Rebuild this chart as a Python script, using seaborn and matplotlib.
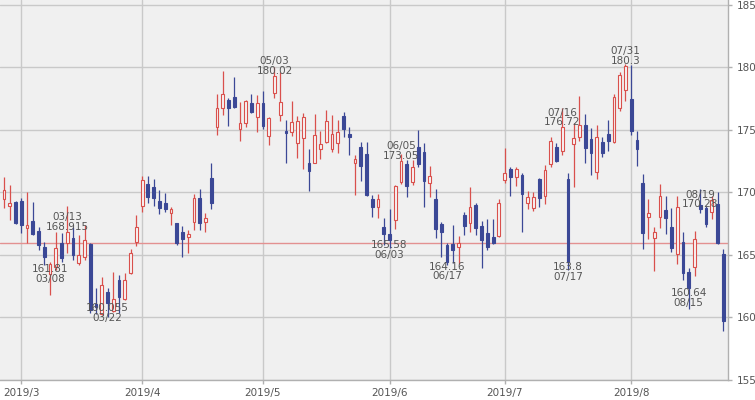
"""
Candlestick chart, Feb 26 - Aug 23 2019, daily bars with high/low markers.
"""

import matplotlib

matplotlib.use("Agg")  # render to file, no display needed
import matplotlib.pyplot as plt
import numpy as np
import pandas as pd
import seaborn as sns

START = "2019-02-26"
END = "2019-08-23"
HOLIDAYS = ["2019-04-19", "2019-05-27", "2019-07-04"]

OPENS = [
    169.45, 168.92, 169.27,
    169.32, 167.19, 167.75, 166.92, 165.67, 163.48, 164.01, 165.93, 165.99, 166.33, 164.33,
    164.87, 165.85, 161.08, 160.30, 162.01, 160.55, 163.00, 161.45, 163.59, 166.07,
    168.92, 170.65, 170.47, 169.32, 169.13, 168.33, 167.53, 166.81, 166.47, 167.67, 169.59,
    167.67, 171.19, 175.21, 176.73, 177.40, 177.61, 175.08, 175.53, 177.19, 176.07,
    177.19, 174.55, 177.93, 176.20, 174.92, 174.87, 173.99, 174.33, 172.39, 172.39, 173.45,
    174.07, 173.48, 173.99, 176.12, 174.68, 172.33, 173.67, 173.08, 169.45, 168.81, 167.21,
    166.65, 167.80, 170.87, 172.28, 170.87, 173.67, 173.27, 170.73, 169.45, 167.48,
    165.80, 165.85, 165.67, 168.20, 167.53, 169.00, 167.32, 166.79, 166.47, 166.52,
    171.00, 171.85, 171.21, 171.40, 169.13, 168.73, 171.05, 169.72, 172.28, 173.61, 173.35,
    171.05, 173.85, 174.41, 175.40, 174.25, 171.67, 174.07, 174.65, 174.07, 176.73, 178.20,
    177.45, 174.20, 170.73, 168.01, 166.33, 168.07, 168.60, 167.21, 165.08, 166.01, 163.67,
    164.01, 169.00, 168.73, 168.40, 169.08, 165.08,
]
HIGHS = [
    171.21, 170.60, 169.30,
    169.53, 170.07, 169.27, 167.21, 166.07, 164.47, 166.87, 166.73, 168.915, 167.27, 166.60,
    167.40, 165.93, 162.33, 163.27, 162.33, 163.67, 163.40, 163.53, 165.45, 168.20,
    171.32, 171.32, 171.05, 170.20, 169.99, 168.87, 167.59, 167.32, 167.00, 169.85, 170.25,
    168.33, 172.33, 177.88, 179.72, 177.59, 179.27, 177.21, 177.40, 177.88, 177.80,
    178.12, 176.07, 180.02, 179.67, 175.80, 177.32, 176.12, 176.39, 173.45, 176.28, 174.92,
    176.60, 176.20, 175.80, 176.47, 175.21, 173.00, 174.07, 174.07, 169.80, 169.85, 167.93,
    168.65, 170.60, 173.05, 172.60, 172.60, 175.00, 173.93, 172.12, 170.25, 167.67,
    165.93, 167.40, 166.52, 168.47, 170.41, 169.19, 167.75, 167.85, 167.85, 169.45,
    173.53, 172.07, 172.07, 171.53, 170.15, 170.07, 171.13, 172.20, 174.47, 173.99, 176.72,
    171.53, 175.53, 177.72, 176.28, 175.13, 175.40, 174.47, 175.80, 177.88, 179.67, 180.30,
    180.20, 174.95, 171.48, 169.45, 167.21, 170.68, 169.72, 168.73, 169.72, 166.87, 163.93,
    166.92, 170.28, 168.92, 169.70, 170.07, 165.45,
]
LOWS = [
    168.73, 167.80, 167.50,
    166.73, 165.93, 166.60, 165.40, 164.20, 161.81, 163.80, 164.47, 165.13, 164.60, 164.20,
    164.60, 160.33, 160.30, 160.20, 160.055, 160.47, 160.33, 161.40, 163.48, 165.75,
    168.47, 169.13, 168.95, 168.28, 168.47, 167.40, 165.80, 164.87, 165.19, 167.00, 167.00,
    166.87, 168.65, 174.60, 176.20, 175.32, 176.73, 174.15, 175.21, 176.33, 174.87,
    175.08, 173.80, 177.53, 175.75, 172.33, 174.52, 172.73, 171.85, 170.15, 172.33, 172.65,
    173.93, 173.27, 173.19, 174.41, 173.00, 169.80, 170.95, 169.75, 168.07, 167.93, 165.80,
    165.58, 167.05, 170.68, 169.61, 170.60, 172.07, 168.87, 169.61, 166.33, 164.87,
    164.16, 164.33, 164.30, 166.60, 166.87, 166.60, 163.93, 165.40, 165.88, 166.41,
    170.73, 169.72, 170.52, 166.87, 168.65, 168.55, 168.87, 169.08, 172.07, 172.47, 173.00,
    163.80, 170.47, 174.15, 172.39, 171.40, 171.05, 172.87, 173.35, 173.99, 176.55, 177.35,
    174.60, 172.12, 165.45, 166.25, 163.75, 167.13, 166.68, 165.27, 164.28, 163.00, 160.64,
    163.32, 168.33, 167.27, 167.90, 165.88, 158.95,
]
CLOSES = [
    170.20, 169.13, 167.59,
    167.40, 167.40, 166.65, 165.80, 164.81, 164.28, 165.53, 164.73, 166.87, 165.00, 165.00,
    166.20, 160.60, 160.81, 162.60, 161.13, 161.45, 161.67, 163.00, 165.19, 167.21,
    171.00, 169.67, 169.53, 168.73, 168.65, 168.65, 165.99, 166.25, 166.68, 169.59, 167.53,
    167.93, 169.19, 176.73, 177.88, 176.73, 176.81, 175.53, 177.35, 176.41, 177.19,
    175.32, 175.93, 179.32, 177.21, 174.73, 175.67, 175.72, 176.07, 171.75, 174.60, 173.85,
    175.72, 174.65, 174.87, 175.05, 174.41, 172.65, 172.12, 169.80, 168.87, 169.45, 166.65,
    166.20, 170.52, 172.55, 170.52, 172.01, 172.28, 170.95, 171.32, 167.05, 166.87,
    164.47, 165.40, 165.99, 167.32, 168.87, 167.13, 166.20, 165.67, 165.93, 169.13,
    171.59, 171.21, 171.85, 169.88, 169.61, 169.61, 169.53, 171.80, 174.15, 172.55, 175.21,
    164.40, 174.33, 175.40, 173.53, 173.19, 174.41, 173.19, 174.15, 177.61, 179.40, 180.12,
    174.95, 173.45, 166.73, 168.33, 166.87, 169.72, 167.93, 165.53, 168.87, 163.53, 162.33,
    166.25, 168.65, 167.48, 169.40, 165.93, 159.75,
]

HIGH_MARKS = ["2019-03-13", "2019-05-03", "2019-06-05", "2019-07-16", "2019-07-31", "2019-08-19"]
LOW_MARKS = ["2019-03-08", "2019-03-22", "2019-06-03", "2019-06-17", "2019-07-17", "2019-08-15"]
Y_TICKS = [155, 160, 165, 170, 175, 180, 185]

UP_COLOR = "#d9504c"
DOWN_COLOR = "#3b4896"
TEXT_COLOR = "#555555"
GRID_COLOR = "#c9c9c9"


def build_frame() -> pd.DataFrame:
    days = pd.bdate_range(START, END)
    days = days[~days.isin(pd.to_datetime(HOLIDAYS))]
    df = pd.DataFrame({"date": days, "open": OPENS, "high": HIGHS, "low": LOWS, "close": CLOSES})
    df["pos"] = np.arange(len(df))
    df["up"] = df["close"] >= df["open"]
    return df


def plot_candles(df: pd.DataFrame) -> None:
    sns.set_style("whitegrid", {"axes.facecolor": "#f0f0f0", "grid.color": GRID_COLOR})
    plt.rcParams["font.family"] = ["DejaVu Sans"]

    fig = plt.figure(figsize=(7.55, 4.0), dpi=100)
    ax = fig.add_axes([0, 20 / 400, 728 / 755, 380 / 400])

    edge = np.where(df["up"], UP_COLOR, DOWN_COLOR)
    face = np.where(df["up"], "#f8f5f5", DOWN_COLOR)
    ax.vlines(df["pos"], df["low"], df["high"], colors=edge, linewidth=0.9, zorder=2)
    bottom = df[["open", "close"]].min(axis=1)
    height = (df["close"] - df["open"]).abs().clip(lower=0.1)
    ax.bar(df["pos"], height, bottom=bottom, width=0.48, color=face, edgecolor=edge,
           linewidth=0.8, zorder=3)

    ax.axhline(df["close"].iloc[-2], color="#e39191", linewidth=1, zorder=1.5)

    for d in HIGH_MARKS:
        row = df[df["date"] == d].iloc[0]
        ax.text(row["pos"], row["close"], f"{row['date']:%m/%d}\n{row['high']:g}",
                ha="center", va="bottom", fontsize=7.5, color=TEXT_COLOR, linespacing=0.95, zorder=4)
    for d in LOW_MARKS:
        row = df[df["date"] == d].iloc[0]
        ax.text(row["pos"], row["close"], f"{row['low']:g}\n{row['date']:%m/%d}",
                ha="center", va="top", fontsize=7.5, color=TEXT_COLOR, linespacing=0.95, zorder=4)

    month_first = df[df["date"] >= "2019-03-01"].groupby(df["date"].dt.month)["pos"].min()
    ax.set_xticks(month_first.values)
    ax.set_xticklabels([f"2019/{m}" for m in month_first.index])
    ax.set_xlim(-0.70, 125.82)
    ax.set_ylim(155, 185.4)
    ax.set_yticks(Y_TICKS)
    ax.yaxis.tick_right()
    ax.tick_params(axis="both", colors="#b0b0b0", labelcolor=TEXT_COLOR, labelsize=7.5,
                   length=3, width=1, pad=3)
    ax.tick_params(axis="x", bottom=True)
    ax.tick_params(axis="y", right=True)
    ax.grid(True, color=GRID_COLOR, linewidth=1)
    ax.set_axisbelow(True)
    for side in ["top", "left"]:
        ax.spines[side].set_visible(False)
    for side in ["right", "bottom"]:
        ax.spines[side].set_color("#b0b0b0")
        ax.spines[side].set_linewidth(1)

    fig.savefig("out.png", dpi=100, facecolor="white")
    plt.close(fig)


if __name__ == "__main__":
    plot_candles(build_frame())
